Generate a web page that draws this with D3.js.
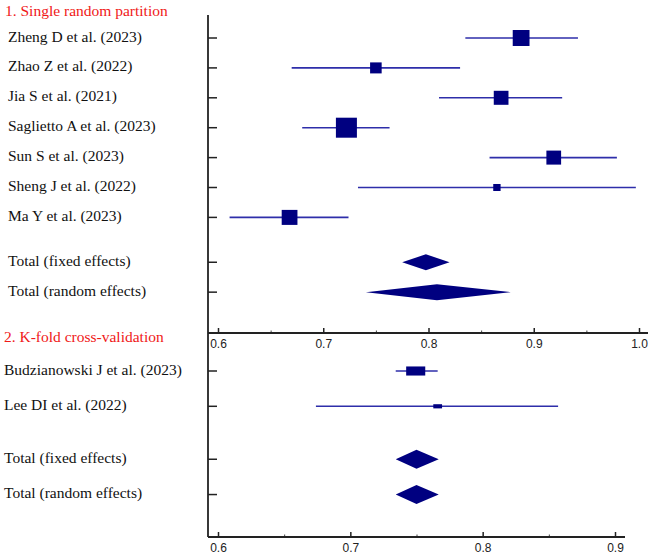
<!DOCTYPE html>
<html>
  <head>
    <meta charset="UTF-8" />
    <title>Forest plot</title>
    <style>
      body { margin: 0; background: #fff; }
      .lbl { font-family: 'Liberation Serif', 'Times New Roman', serif; font-size: 15.5px; fill: #111; }
      .ttl { font-family: 'Liberation Serif', 'Times New Roman', serif; font-size: 15.5px; fill: #f01818; }
      .tick text { font-family: 'Liberation Sans', Arial, sans-serif; font-size: 12px; fill: #222; }
    </style>
    <script src="https://d3js.org/d3.v7.min.js"></script>
  </head>
  <body>
    <div id="viz"></div>
    <script>
      // section 1: single random partition
      const studies1 = [
        'Zheng D et al. (2023)',
        'Zhao Z et al. (2022)',
        'Jia S et al. (2021)',
        'Saglietto A et al. (2023)',
        'Sun S et al. (2023)',
        'Sheng J et al. (2022)',
        'Ma Y et al. (2023)',
      ];
      const est1 = [0.888, 0.750, 0.869, 0.722, 0.919, 0.865, 0.668];
      const lo1 = [0.835, 0.670, 0.810, 0.680, 0.858, 0.733, 0.611];
      const hi1 = [0.942, 0.830, 0.927, 0.763, 0.979, 0.997, 0.724];
      const weight1 = [17.7, 8.4, 13.6, 27.7, 13.6, 3.4, 15.6];
      const totals1 = ['Total (fixed effects)', 'Total (random effects)'];
      const totEst1 = [0.7975, 0.808];
      const totLo1 = [0.775, 0.7405];
      const totHi1 = [0.820, 0.878];
      const ticks1 = [0.6, 0.7, 0.8, 0.9, 1.0];
      const minor1 = [0.65, 0.75, 0.85, 0.95];

      // section 2: k-fold cross-validation
      const studies2 = ['Budzianowski J et al. (2023)', 'Lee DI et al. (2022)'];
      const est2 = [0.7494, 0.766];
      const lo2 = [0.7343, 0.674];
      const hi2 = [0.766, 0.857];
      const weight2 = [82.6, 17.4];
      const totals2 = ['Total (fixed effects)', 'Total (random effects)'];
      const totEst2 = [0.750, 0.750];
      const totLo2 = [0.7343, 0.7343];
      const totHi2 = [0.7668, 0.7668];
      const ticks2 = [0.6, 0.7, 0.8, 0.9];
      const minor2 = [0.65, 0.75, 0.85];

      const W = 651, H = 556;
      const axisX = 208;
      const lineCol = '#2e2eaa';
      const boxCol = '#000080';

      const svg = d3.select('#viz').append('svg')
        .attr('width', W).attr('height', H);

      function panel(cfg) {
        const g = svg.append('g');
        const x = d3.scaleLinear().domain(cfg.domain).range(cfg.xr);
        const y = d3.scaleLinear().domain([0, 1]).range([cfg.y0, cfg.y0 + cfg.step]);

        const rows = cfg.studies.map((s, i) => ({
          name: s, i: i, est: cfg.est[i], lo: cfg.lo[i], hi: cfg.hi[i], w: cfg.weight[i]
        }));
        const n = rows.length;
        const tots = cfg.totals.map((s, j) => ({
          name: s, i: n + 0.5 + j, est: cfg.totEst[j], lo: cfg.totLo[j], hi: cfg.totHi[j]
        }));
        const all = rows.concat(tots);

        // title
        g.append('text').attr('class', 'ttl')
          .attr('x', cfg.titleX).attr('y', cfg.titleY)
          .attr('dominant-baseline', 'middle')
          .text(cfg.title);

        // row labels
        g.selectAll('.lbl').data(all).join('text')
          .attr('class', 'lbl')
          .attr('x', cfg.labelX)
          .attr('y', (d) => y(d.i))
          .attr('dominant-baseline', 'middle')
          .text((d) => d.name);

        // row ticks on vertical axis
        g.selectAll('.rtick').data(all).join('line')
          .attr('x1', axisX).attr('x2', axisX + 9)
          .attr('y1', (d) => y(d.i)).attr('y2', (d) => y(d.i))
          .attr('stroke', '#222').attr('stroke-width', 1.5);

        // confidence intervals
        g.selectAll('.ci').data(rows).join('line')
          .attr('x1', (d) => x(d.lo)).attr('x2', (d) => x(d.hi))
          .attr('y1', (d) => y(d.i)).attr('y2', (d) => y(d.i))
          .attr('stroke', lineCol).attr('stroke-width', 1.6);

        // weighted boxes
        const sz = d3.scaleSqrt().domain([0, 100]).range([0, cfg.boxK]);
        g.selectAll('.box').data(rows).join('rect')
          .attr('x', (d) => x(d.est) - sz(d.w) * cfg.boxAsp / 2)
          .attr('y', (d) => y(d.i) - sz(d.w) / 2)
          .attr('width', (d) => sz(d.w) * cfg.boxAsp)
          .attr('height', (d) => sz(d.w))
          .attr('fill', boxCol);

        // pooled diamonds
        g.selectAll('.dia').data(tots).join('path')
          .attr('d', (d) => {
            const cy = y(d.i), h = cfg.diaH / 2;
            return `M${x(d.lo)},${cy}L${x(d.est)},${cy - h}L${x(d.hi)},${cy}L${x(d.est)},${cy + h}Z`;
          })
          .attr('fill', boxCol);

        // x axis
        const ax = g.append('g').attr('transform', `translate(0,${cfg.axisY})`);
        ax.call(d3.axisBottom(x).tickValues(cfg.ticks).tickSize(-5).tickPadding(6)
          .tickFormat(d3.format('.1f')));
        ax.select('.domain').remove();
        ax.selectAll('.tick line').attr('stroke', '#222').attr('stroke-width', 1.5);
        const mx = g.append('g').attr('transform', `translate(0,${cfg.axisY})`);
        mx.call(d3.axisBottom(x).tickValues(cfg.minor).tickSize(-2.5).tickFormat(''));
        mx.select('.domain').remove();
        mx.selectAll('.tick line').attr('stroke', '#444').attr('stroke-width', 1);
        g.append('line')
          .attr('x1', axisX).attr('x2', x.range()[1] + cfg.axisTail)
          .attr('y1', cfg.axisY).attr('y2', cfg.axisY)
          .attr('stroke', '#222').attr('stroke-width', 1.8);
      }

      panel({
        title: '1. Single random partition', titleX: 5, titleY: 12,
        studies: studies1, est: est1, lo: lo1, hi: hi1, weight: weight1,
        totals: totals1, totEst: totEst1, totLo: totLo1, totHi: totHi1,
        ticks: ticks1, minor: minor1, domain: [0.6, 1.0], xr: [218, 639],
        y0: 38, step: 29.9, labelX: 8, axisY: 333, axisTail: 9,
        boxK: 38, boxAsp: 1.05, diaH: 16,
      });

      panel({
        title: '2. K-fold cross-validation', titleX: 4, titleY: 338,
        studies: studies2, est: est2, lo: lo2, hi: hi2, weight: weight2,
        totals: totals2, totEst: totEst2, totLo: totLo2, totHi: totHi2,
        ticks: ticks2, minor: minor2, domain: [0.6, 0.9], xr: [218, 615],
        y0: 371, step: 35.3, labelX: 4, axisY: 537, axisTail: 10,
        boxK: 10, boxAsp: 2.1, diaH: 19,
      });

      // shared vertical axis
      svg.append('line')
        .attr('x1', axisX).attr('x2', axisX)
        .attr('y1', 15).attr('y2', 537)
        .attr('stroke', '#222').attr('stroke-width', 1.8);
    </script>
  </body>
</html>
